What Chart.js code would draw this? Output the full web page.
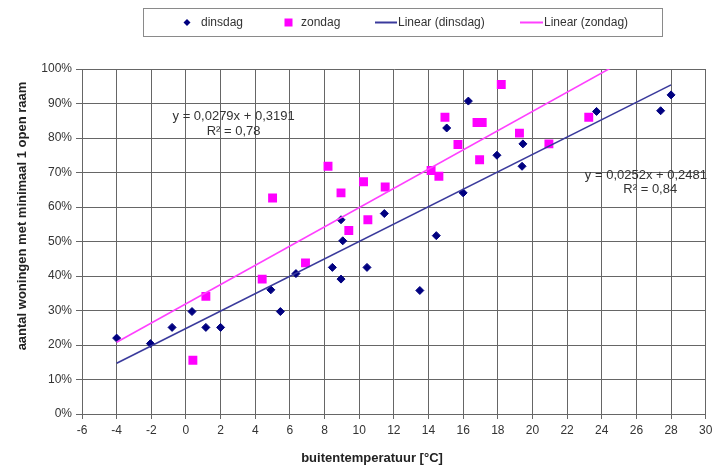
<!DOCTYPE html>
<html>
<head>
<meta charset="utf-8">
<script src="https://cdn.jsdelivr.net/npm/chart.js@4"></script>
<style>
  html, body { margin: 0; padding: 0; background: #fff; }
  #wrap { width: 712px; height: 470px; }
</style>
</head>
<body>
<div id="wrap"><canvas id="chart" width="712" height="470"></canvas></div>
<script>
// ========== DATA ==========
const dinsdagTemp = [-4.0, -2.05, -0.8, 0.35, 1.15, 2.0, 4.9, 5.45, 6.35, 8.45, 8.95, 8.95, 9.05, 10.45,
  11.45, 13.5, 14.45, 15.05, 16.0, 16.3, 17.95, 19.45, 19.4, 23.7, 27.4, 28.0];
const dinsdagOpen = [0.22, 0.204, 0.251, 0.297, 0.251, 0.251, 0.36, 0.297, 0.407, 0.425, 0.391, 0.563, 0.502, 0.425,
  0.581, 0.358, 0.517, 0.829, 0.641, 0.907, 0.75, 0.783, 0.718, 0.877, 0.879, 0.925];

const zondagTemp = [0.4, 1.15, 4.4, 5.0, 6.9, 8.2, 8.95, 9.4, 10.25, 10.5, 11.5, 14.15, 14.6, 14.95,
  15.7, 16.8, 17.1, 16.95, 18.2, 19.25, 20.95, 23.25];
const zondagOpen = [0.156, 0.341, 0.391, 0.626, 0.438, 0.718, 0.641, 0.532, 0.673, 0.563, 0.658, 0.706, 0.689, 0.86,
  0.781, 0.845, 0.845, 0.737, 0.955, 0.814, 0.783, 0.86];

// trend line end points (Linear)
const trendTemp = [-4, 28];
const dinsdagTrend = [0.147, 0.954];
const zondagTrend = [0.208, 1.100];

const xTicks = [-6, 30, 2];      // min, max, step
const yTicks = [0, 1, 0.1];

const eqLabels = ['y = 0,0279x + 0,3191', 'R² = 0,78', 'y = 0,0252x + 0,2481', 'R² = 0,84'];
const eqTemp = [2.75, 2.75, 26.55, 26.8];
const eqOpen = [0.862, 0.818, 0.692, 0.65];

const xTitle = 'buitentemperatuur [°C]';
const yTitle = 'aantal woningen met minimaal 1 open raam';

const NAVY = '#000080';
const MAGENTA = '#ff00ff';
const BLUE_LINE = '#3a3a9c';
const PINK_LINE = '#ff40ff';
const GRID = '#666';
const FONT = "'Liberation Sans', Arial, sans-serif";

function pts(xs, ys) { return xs.map((x, i) => ({ x: x, y: ys[i] })); }

// ========== EXTRA DRAWING (legend box, equations, axis titles) ==========
const extras = {
  id: 'extras',
  afterDraw(chart) {
    const c = chart.ctx;
    const xs = chart.scales.x, ys = chart.scales.y;
    c.save();

    // equations
    c.fillStyle = '#333';
    c.font = '13px ' + FONT;
    c.textAlign = 'center';
    c.textBaseline = 'middle';
    eqLabels.forEach((t, i) => {
      c.fillText(t, xs.getPixelForValue(eqTemp[i]), ys.getPixelForValue(eqOpen[i]));
    });

    // axis titles
    c.fillStyle = '#222';
    c.font = 'bold 13px ' + FONT;
    c.fillText(xTitle, 372, 458);
    c.save();
    c.translate(22, 216);
    c.rotate(-Math.PI / 2);
    c.fillText(yTitle, 0, 0);
    c.restore();

    // legend
    c.strokeStyle = '#8a8a8a';
    c.lineWidth = 1;
    c.strokeRect(143.5, 8.5, 519, 28);
    const ly = 22.5;
    c.font = '12px ' + FONT;
    c.textAlign = 'left';

    c.fillStyle = NAVY;
    c.beginPath();
    c.moveTo(187, ly - 3.5); c.lineTo(190.5, ly); c.lineTo(187, ly + 3.5); c.lineTo(183.5, ly);
    c.closePath(); c.fill();
    c.fillStyle = '#333';
    c.fillText(chart.data.datasets[0].label, 201, ly);

    c.fillStyle = MAGENTA;
    c.fillRect(284.5, ly - 4, 8, 8);
    c.fillStyle = '#333';
    c.fillText(chart.data.datasets[1].label, 301, ly);

    c.lineWidth = 2;
    c.strokeStyle = BLUE_LINE;
    c.beginPath(); c.moveTo(375, ly); c.lineTo(397, ly); c.stroke();
    c.fillText(chart.data.datasets[2].label, 398, ly);

    c.strokeStyle = PINK_LINE;
    c.beginPath(); c.moveTo(520, ly); c.lineTo(543, ly); c.stroke();
    c.fillText(chart.data.datasets[3].label, 544, ly);

    c.restore();
  }
};

// ========== CHART ==========
const chart = new Chart(document.getElementById('chart'), {
  type: 'scatter',
  data: {
    datasets: [{
      label: 'dinsdag',
      data: pts(dinsdagTemp, dinsdagOpen),
      pointStyle: 'rectRot',
      pointRadius: 4,
      pointHoverRadius: 4,
      backgroundColor: NAVY,
      borderColor: NAVY,
      borderWidth: 1,
      order: 2
    }, {
      label: 'zondag',
      data: pts(zondagTemp, zondagOpen),
      pointStyle: 'rect',
      pointRadius: 6.3,
      pointHoverRadius: 6.3,
      backgroundColor: MAGENTA,
      borderColor: MAGENTA,
      borderWidth: 0,
      order: 3
    }, {
      label: 'Linear (dinsdag)',
      data: pts(trendTemp, dinsdagTrend),
      showLine: true,
      pointRadius: 0,
      borderColor: BLUE_LINE,
      borderWidth: 1.6,
      order: 1
    }, {
      label: 'Linear (zondag)',
      data: pts(trendTemp, zondagTrend),
      showLine: true,
      pointRadius: 0,
      borderColor: PINK_LINE,
      borderWidth: 1.6,
      order: 0
    }]
  },
  options: {
    responsive: false,
    animation: false,
    layout: { padding: { top: 69, right: 6, left: 0, bottom: 0 } },
    plugins: {
      legend: { display: false },
      tooltip: { enabled: false }
    },
    scales: {
      x: {
        type: 'linear',
        min: xTicks[0],
        max: xTicks[1],
        afterFit: s => { s.height = 56; s.paddingRight = 0; s.paddingLeft = 0; },
        ticks: {
          stepSize: xTicks[2],
          color: '#333',
          padding: 4,
          maxRotation: 0,
          font: { family: FONT, size: 12 }
        },
        grid: { color: GRID, tickLength: 5, lineWidth: 1 },
        border: { color: GRID }
      },
      y: {
        min: yTicks[0],
        max: yTicks[1],
        afterFit: s => { s.width = 82; },
        ticks: {
          stepSize: yTicks[2],
          color: '#333',
          padding: 4,
          font: { family: FONT, size: 12 },
          callback: v => Math.round(v * 100) + '%'
        },
        grid: { color: GRID, tickLength: 6, lineWidth: 1 },
        border: { color: GRID }
      }
    }
  },
  plugins: [extras]
});
</script>
</body>
</html>
